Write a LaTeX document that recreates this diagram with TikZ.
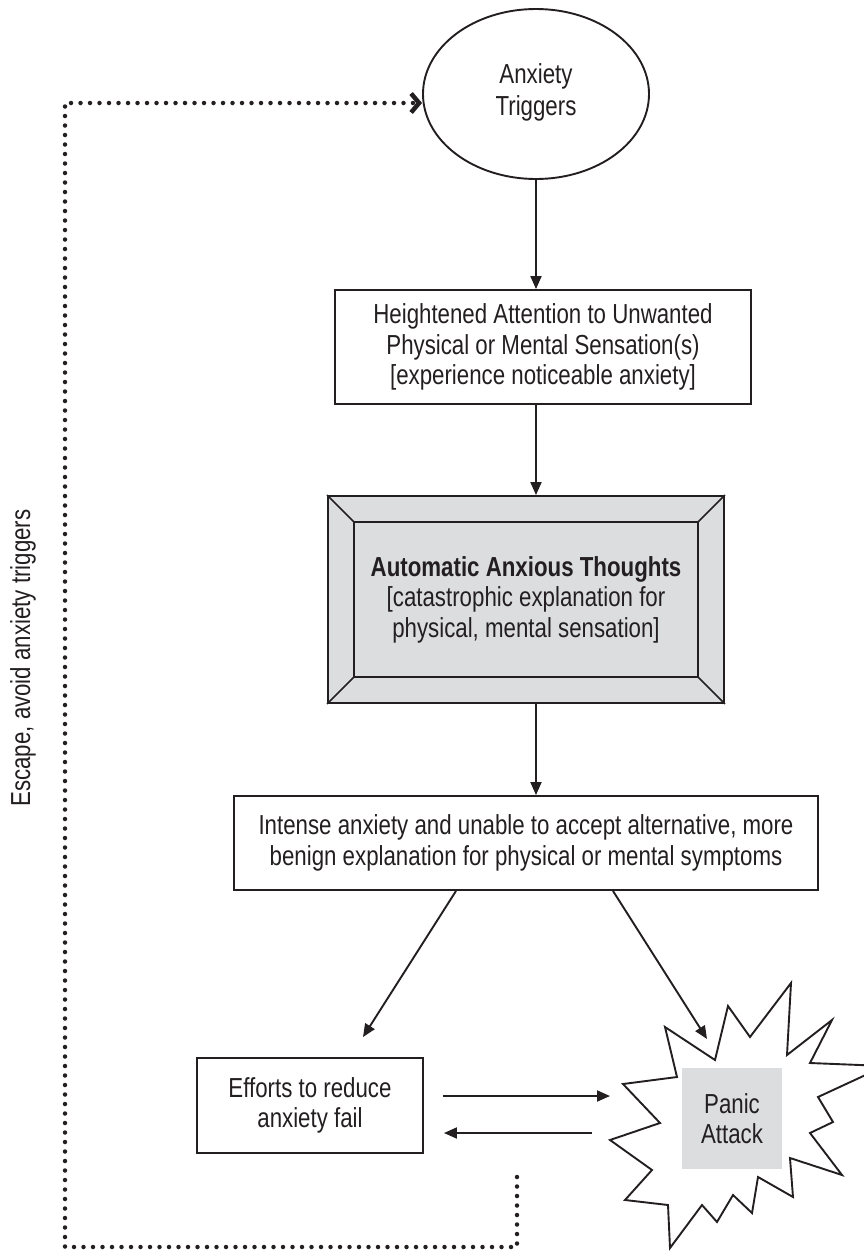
\documentclass[tikz,border=0pt]{standalone}
\usepackage{fontspec}
\setmainfont{Liberation Sans}[FakeStretch=0.81]
\usetikzlibrary{arrows.meta,shapes.geometric}
\definecolor{ink}{HTML}{231F20}
\definecolor{panelgrey}{HTML}{DCDDDF}
\begin{document}
\begin{tikzpicture}[x=1pt,y=-1pt,
  every node/.style={text=ink,font=\fontsize{27.5}{30.5}\selectfont,align=center},
  boxnode/.style={draw=ink,line width=1.9pt,rectangle,inner sep=0pt},
  arr/.style={draw=ink,line width=1.9pt,-{Triangle[length=13pt,width=11pt]}},
  dotline/.style={draw=ink,line width=4.5pt,line cap=round,dash pattern=on 0pt off 9.5pt,
     -{Straight Barb[length=8pt,width=19pt,line width=4.5pt]}},
  burst/.style={draw=ink,line width=1.9pt,line join=miter,fill=white}]
\useasboundingbox (0,0) rectangle (864,1253);

% Anxiety triggers ellipse
\node[ellipse,draw=ink,line width=1.9pt,minimum width=226pt,minimum height=170pt,inner sep=0pt]
  (trig) at (536,94) {\raisebox{9pt}{\shortstack{Anxiety\\[3pt]Triggers}}};

% Heightened attention box
\node[boxnode,minimum width=416pt,minimum height=114pt] (heat) at (543,347)
  {Heightened Attention to Unwanted\\Physical or Mental Sensation(s)\\{[}experience noticeable anxiety{]}};

% Automatic anxious thoughts bevel box
\node[boxnode,fill=panelgrey,minimum width=396pt,minimum height=207pt] (auto) at (526,599.5)
  {\textbf{Automatic Anxious Thoughts}\\{[}catastrophic explanation for\\physical, mental sensation{]}};
\draw[ink,line width=1.9pt]
  ([xshift=27pt,yshift=-27pt]auto.north west) rectangle ([xshift=-27pt,yshift=27pt]auto.south east);
\draw[ink,line width=1.6pt] (auto.north west) -- ([xshift=27pt,yshift=-27pt]auto.north west);
\draw[ink,line width=1.6pt] (auto.north east) -- ([xshift=-27pt,yshift=-27pt]auto.north east);
\draw[ink,line width=1.6pt] (auto.south west) -- ([xshift=27pt,yshift=27pt]auto.south west);
\draw[ink,line width=1.6pt] (auto.south east) -- ([xshift=-27pt,yshift=27pt]auto.south east);

% Intense anxiety box
\node[boxnode,minimum width=584pt,minimum height=94pt] (intense) at (526,843)
  {Intense anxiety and unable to accept alternative, more\\benign explanation for physical or mental symptoms};

% Efforts box
\node[boxnode,minimum width=226pt,minimum height=95pt] (eff) at (310,1105.5)
  {Efforts to reduce\\anxiety fail};

% Starburst
\begin{scope}
\clip (0,0) rectangle (864,1253);
\draw[burst] (665,1027) -- (715,1060) -- (728,1006) -- (750,1037) -- (791,983) -- (787,1055)
  -- (832,1020) -- (810,1063) -- (885,1066) -- (818,1097) -- (833,1122) -- (810,1133)
  -- (842,1175) -- (790,1158) -- (793,1197) -- (758,1177) -- (752,1213) -- (733,1195)
  -- (717,1222) -- (702,1205) -- (670,1248) -- (668,1205) -- (625,1200) -- (652,1170)
  -- (610,1140) -- (660,1123) -- (623,1084) -- (677,1077) -- cycle;
\end{scope}
\node[fill=panelgrey,minimum width=100pt,minimum height=101pt,inner sep=0pt] (panic) at (732,1118.5)
  {Panic\\Attack};

% Side label
\node[rotate=90] (esc) at (23,658) {Escape, avoid anxiety triggers};

% Solid connectors
\draw[arr] (trig.south) -- (trig.south |- heat.north);
\draw[arr] (trig.south |- heat.south) -- (trig.south |- auto.north);
\draw[arr] (trig.south |- auto.south) -- (trig.south |- intense.north);
\draw[arr] ([xshift=-70pt]intense.south) -- ([xshift=53pt,yshift=20pt]eff.north);
\coordinate (burstTop) at (707,1039);
\draw[arr] ([xshift=87pt]intense.south) -- (burstTop);
\coordinate (burstL1) at (610,1096);
\coordinate (burstL2) at (592,1133);
\draw[arr] ([xshift=19pt]eff.east |- burstL1) -- (burstL1);
\draw[arr] (burstL2) -- ([xshift=20pt]eff.east |- burstL2);

% Dotted escape loop
\coordinate (dotStart) at (517,1177);
\coordinate (dotCornerR) at (517,1247);
\coordinate (dotCornerL) at (65,1247);
\draw[dotline] (dotStart) -- (dotCornerR) -- (dotCornerL) |- ([yshift=-9pt]trig.west);
\end{tikzpicture}
\end{document}
